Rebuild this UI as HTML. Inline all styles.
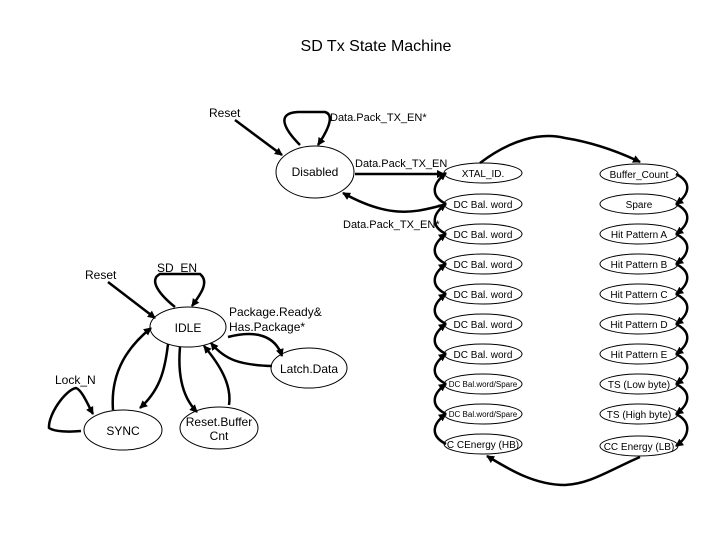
<!DOCTYPE html>
<html><head><style>
body{margin:0;background:#fff}
svg{display:block;font-family:"Liberation Sans",Arial,sans-serif}
</style></head><body>
<svg width="720" height="540" viewBox="0 0 720 540" xmlns="http://www.w3.org/2000/svg">
<defs><marker id="a" markerWidth="8" markerHeight="8" refX="7" refY="4" orient="auto" markerUnits="userSpaceOnUse"><path d="M0,0 L8,4 L0,8 z" fill="#000"/></marker></defs>
<text x="376" y="51" font-size="16" text-anchor="middle">SD Tx  State Machine</text>
<g fill="none" stroke="#000" stroke-width="1">
<ellipse cx="315" cy="172" rx="39" ry="26"/>
<ellipse cx="188" cy="327" rx="38" ry="20"/>
<ellipse cx="309" cy="368" rx="38" ry="20"/>
<ellipse cx="123" cy="430" rx="39" ry="20"/>
<ellipse cx="219" cy="428" rx="39" ry="21"/>
<g id="L">
<ellipse cx="483" cy="173" rx="39" ry="10"/><ellipse cx="483" cy="204" rx="39" ry="10"/><ellipse cx="483" cy="234" rx="39" ry="10"/><ellipse cx="483" cy="264" rx="39" ry="10"/><ellipse cx="483" cy="294" rx="39" ry="10"/><ellipse cx="483" cy="324" rx="39" ry="10"/><ellipse cx="483" cy="354" rx="39" ry="10"/><ellipse cx="483" cy="384" rx="39" ry="10"/><ellipse cx="483" cy="414" rx="39" ry="10"/><ellipse cx="483" cy="444" rx="39" ry="10"/>
</g>
<ellipse cx="639" cy="174" rx="39" ry="10"/><ellipse cx="639" cy="204" rx="39" ry="10"/><ellipse cx="639" cy="234" rx="39" ry="10"/><ellipse cx="639" cy="264" rx="39" ry="10"/><ellipse cx="639" cy="294" rx="39" ry="10"/><ellipse cx="639" cy="324" rx="39" ry="10"/><ellipse cx="639" cy="354" rx="39" ry="10"/><ellipse cx="639" cy="384" rx="39" ry="10"/><ellipse cx="639" cy="414" rx="39" ry="10"/><ellipse cx="639" cy="446" rx="39" ry="10"/>
</g>
<g fill="none" stroke="#000" stroke-width="2.5" marker-end="url(#a)">
<path d="M446 444 C430 436,432 424,446 414"/><path d="M446 414 C430 406,432 394,446 384"/><path d="M446 384 C430 376,432 364,446 354"/><path d="M446 354 C430 346,432 334,446 324"/><path d="M446 324 C430 316,432 304,446 294"/><path d="M446 294 C430 286,432 274,446 264"/><path d="M446 264 C430 256,432 244,446 234"/><path d="M446 234 C430 226,432 214,446 204"/><path d="M446 204 C430 196,432 184,446 173"/>
<path d="M676 174 C692 182,690 194,676 204"/><path d="M676 204 C692 212,690 224,676 234"/><path d="M676 234 C692 242,690 254,676 264"/><path d="M676 264 C692 272,690 284,676 294"/><path d="M676 294 C692 302,690 314,676 324"/><path d="M676 324 C692 332,690 344,676 354"/><path d="M676 354 C692 362,690 374,676 384"/><path d="M676 384 C692 392,690 404,676 414"/><path d="M676 414 C692 422,690 436,676 446"/>
<path d="M480 163 C510 140,540 132,565 138 C590 142,615 150,640 162"/>
<path d="M640 457 C610 470,590 484,565 485 C535 485,510 470,487 456"/>
<path d="M235 120 L282 155"/>
<path d="M300 145 C285 130,275 113,298 112 L325 112 C335 115,328 130,318 145"/>
<path d="M355 174 L444 174"/>
<path d="M444 205 C420 210,395 222,343 193"/>
<path d="M108 282 L155 318"/>
<path d="M175 307 C160 295,148 280,160 274 L200 274 C210 282,200 295,192 306"/>
<path d="M228 337 C255 330,275 335,282 356"/>
<path d="M272 366 C240 365,225 360,211 343"/>
<path d="M113 410 C110 370,130 345,151 328"/>
<path d="M168 344 C165 370,160 390,140 408"/>
<path d="M180 347 C178 370,180 395,197 412"/>
<path d="M229 405 C232 385,220 365,204 346"/>
<path d="M81 431 C70 432,55 432,49 428 C48 415,65 390,76 388 C82 390,88 405,93 414"/>
</g>
<g font-size="12">
<text x="209" y="117">Reset</text>
<text x="330" y="121" font-size="11">Data.Pack_TX_EN*</text>
<text x="315" y="176" text-anchor="middle">Disabled</text>
<text x="355" y="167" font-size="11">Data.Pack_TX_EN</text>
<text x="343" y="228" font-size="11">Data.Pack_TX_EN*</text>
<text x="85" y="279">Reset</text>
<text x="157" y="272">SD_EN</text>
<text x="188" y="332" text-anchor="middle">IDLE</text>
<text x="229" y="316">Package.Ready&amp;</text>
<text x="229" y="331">Has.Package*</text>
<text x="309" y="373" text-anchor="middle">Latch.Data</text>
<text x="55" y="384">Lock_N</text>
<text x="123" y="435" text-anchor="middle">SYNC</text>
<text x="219" y="426" text-anchor="middle">Reset.Buffer</text>
<text x="219" y="440" text-anchor="middle">Cnt</text>
</g>
<g font-size="10" text-anchor="middle">
<text x="483" y="177">XTAL_ID.</text>
<text x="483" y="208">DC Bal. word</text><text x="483" y="238">DC Bal. word</text><text x="483" y="268">DC Bal. word</text><text x="483" y="298">DC Bal. word</text><text x="483" y="328">DC Bal. word</text><text x="483" y="358">DC Bal. word</text>
<text x="483" y="387" font-size="8">DC Bal.word/Spare</text><text x="483" y="417" font-size="8">DC Bal.word/Spare</text>
<text x="483" y="448">C CEnergy (HB)</text>
<text x="639" y="178">Buffer_Count</text><text x="639" y="208">Spare</text><text x="639" y="238">Hit Pattern A</text><text x="639" y="268">Hit Pattern B</text><text x="639" y="298">Hit Pattern C</text><text x="639" y="328">Hit Pattern D</text><text x="639" y="358">Hit Pattern E</text><text x="639" y="388">TS (Low byte)</text><text x="639" y="418">TS (High byte)</text><text x="639" y="450">CC Energy (LB)</text>
</g>
</svg>
</body></html>
